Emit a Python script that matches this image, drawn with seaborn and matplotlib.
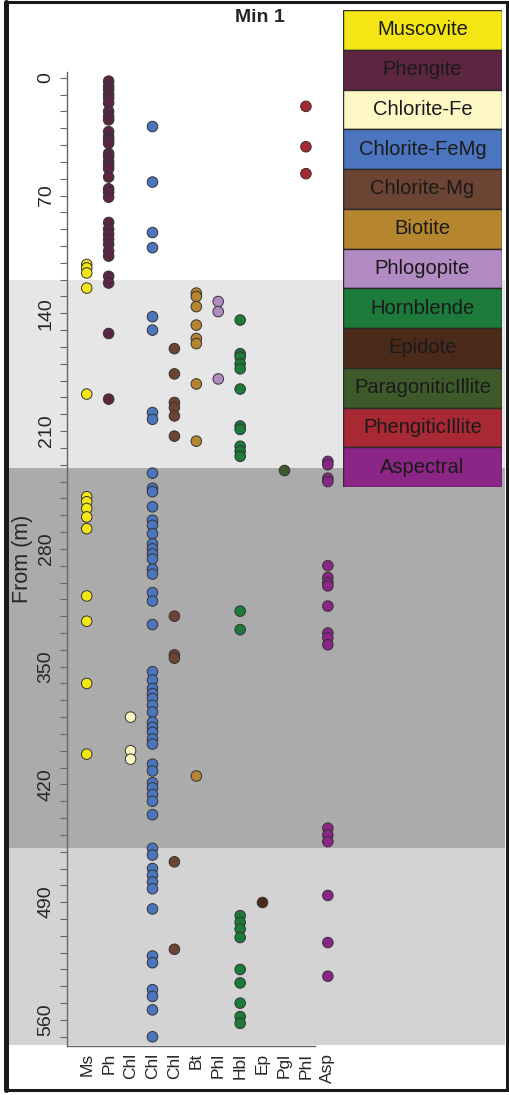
"""
Min 1 - mineral occurrence vs depth (strip plot)
"""
import matplotlib
matplotlib.use('Agg')
import matplotlib.pyplot as plt
import matplotlib.transforms as mtransforms
from matplotlib.patches import Rectangle
from matplotlib.lines import Line2D
from matplotlib.ticker import MultipleLocator
import seaborn as sns
import pandas as pd

# Categories
minerals = ['Muscovite', 'Phengite', 'Chlorite-Fe', 'Chlorite-FeMg', 'Chlorite-Mg', 'Biotite',
            'Phlogopite', 'Hornblende', 'Epidote', 'ParagoniticIllite', 'PhengiticIllite', 'Aspectral']
abbrevs = ['Ms', 'Ph', 'Chl', 'Chl', 'Chl', 'Bt', 'Phl', 'Hbl', 'Ep', 'Pgl', 'PhI', 'Asp']
colors = ['#f4e515', '#5c2641', '#fdf7c4', '#4b75bf', '#6c4434', '#b6862e',
          '#b38bc3', '#1c7a3b', '#4c2a1a', '#3e5a2b', '#a82834', '#8b2586']

# Depths (m) per mineral
ms_depth = [111, 113, 116, 125, 188, 249, 252, 256, 261, 268, 308, 323, 360, 402]
ph_depth = [2, 5, 7, 10, 12, 15, 20, 23, 25, 32, 35, 37, 39, 45, 47, 50, 52, 54, 59,
            66, 68, 71, 86, 90, 93, 96, 99, 103, 106, 118, 122, 152, 191]
chl_fe_depth = [380, 400, 405]
chl_femg_depth = [29, 62, 92, 101, 142, 150, 199, 203, 235, 244, 246, 255, 263, 266, 271,
                  277, 280, 283, 286, 292, 295, 306, 311, 325, 353, 358, 363, 366, 369, 373,
                  377, 383, 386, 389, 393, 396, 408, 412, 419, 422, 426, 430, 438, 458, 462,
                  470, 474, 478, 482, 494, 522, 526, 542, 546, 554, 570]
chl_mg_depth = [161, 176, 193, 196, 201, 213, 320, 343, 345, 466, 518]
bt_depth = [128, 130, 136, 147, 155, 158, 182, 216, 415]
phl_depth = [133, 139, 179]
hbl_depth = [144, 164, 166, 170, 173, 185, 207, 209, 219, 222, 225, 317, 328,
             498, 502, 506, 511, 530, 538, 550, 558, 562]
ep_depth = [490]
pgl_depth = [233]
phi_depth = [17, 41, 57]
asp_depth = [228, 230, 238, 240, 290, 297, 300, 302, 314, 330, 333, 337, 446, 450, 454,
             486, 514, 534]

# Depth zones (background bands)
zone_top = [120, 232, 458]
zone_bottom = [232, 458, 575]
zone_colors = ['#e6e6e6', '#ababab', '#d3d3d3']

depths = [ms_depth, ph_depth, chl_fe_depth, chl_femg_depth, chl_mg_depth, bt_depth,
          phl_depth, hbl_depth, ep_depth, pgl_depth, phi_depth, asp_depth]

rows = [(m, d) for m, ds in zip(minerals, depths) for d in ds]
df = pd.DataFrame(rows, columns=['mineral', 'depth'])

sns.set_style('white')
plt.rcParams['font.family'] = ['Liberation Sans', 'DejaVu Sans']

W, H = 510, 1095
fig = plt.figure(figsize=(W / 100, H / 100), dpi=100)
ax = fig.add_axes([67 / W, 1 - 1045.7 / H, 274 / W, (1045.7 - 71.7) / H])
ax.set_facecolor('none')

# background bands across the whole width
trans = mtransforms.blended_transform_factory(fig.transFigure, ax.transData)
for y0, y1, c in zip(zone_top, zone_bottom, zone_colors):
    ax.add_patch(Rectangle((9 / W, y0), (505 - 9) / W, y1 - y0, transform=trans,
                           facecolor=c, edgecolor='none', zorder=0, clip_on=False))

sns.stripplot(data=df, x='mineral', y='depth', hue='mineral', order=minerals,
              hue_order=minerals, palette=dict(zip(minerals, colors)), jitter=False,
              size=7.6, linewidth=0.7, edgecolor='#333333', legend=False, ax=ax,
              zorder=3, clip_on=False)

ax.set_xlim(-0.9, 11.6)
ax.set_ylim(575.3, -3.6)
ax.yaxis.set_major_locator(MultipleLocator(70))
ax.yaxis.set_minor_locator(MultipleLocator(10))
ax.tick_params(axis='y', which='both', left=True, length=5, width=0.8, color='#666666',
               labelsize=14, labelrotation=90, pad=4)
for lbl in ax.get_yticklabels():
    lbl.set_va('center')
ax.set_xticks(range(len(abbrevs)))
ax.set_xticklabels(abbrevs, rotation=90, fontsize=12.5)
ax.tick_params(axis='x', length=0, pad=5)
ax.set_xlabel('')
ax.set_ylabel('From (m)', fontsize=15.5)
ax.yaxis.set_label_coords(-0.124, 0.5)
for s in ['top', 'right']:
    ax.spines[s].set_visible(False)
for s in ['left', 'bottom']:
    ax.spines[s].set_color('#666666')
    ax.spines[s].set_linewidth(1)
ax.spines['bottom'].set_bounds(-0.9, 10.4)

# legend boxes
lax = fig.add_axes([343 / W, 1 - 487 / H, 159 / W, 477 / H])
lax.barh(range(len(minerals)), 1, height=1, left=0, color=colors,
         edgecolor='#2a2a2a', linewidth=1)
for i, m in enumerate(minerals):
    lax.text(0.5, i, m, ha='center', va='center', fontsize=14.5, color='#1a1a1a')
lax.set_xlim(0, 1)
lax.set_ylim(len(minerals) - 0.5, -0.5)
lax.axis('off')

fig.text(260 / W, 1 - 17 / H, 'Min 1', ha='center', va='center', fontsize=14,
         fontweight='bold')

# outer frame
fig.add_artist(Rectangle((6.5 / W, 1 - 1090 / H), (507.5 - 6.5) / W, (1090 - 1.5) / H,
                         transform=fig.transFigure, fill=False, edgecolor='#1a1a1a',
                         linewidth=2.2))
fig.add_artist(Line2D([6.5 / W, 6.5 / W], [1 - 1090 / H, 1 - 1.5 / H],
                      transform=fig.transFigure, color='#1a1a1a', linewidth=3.6))

fig.savefig('out.png', dpi=100)
